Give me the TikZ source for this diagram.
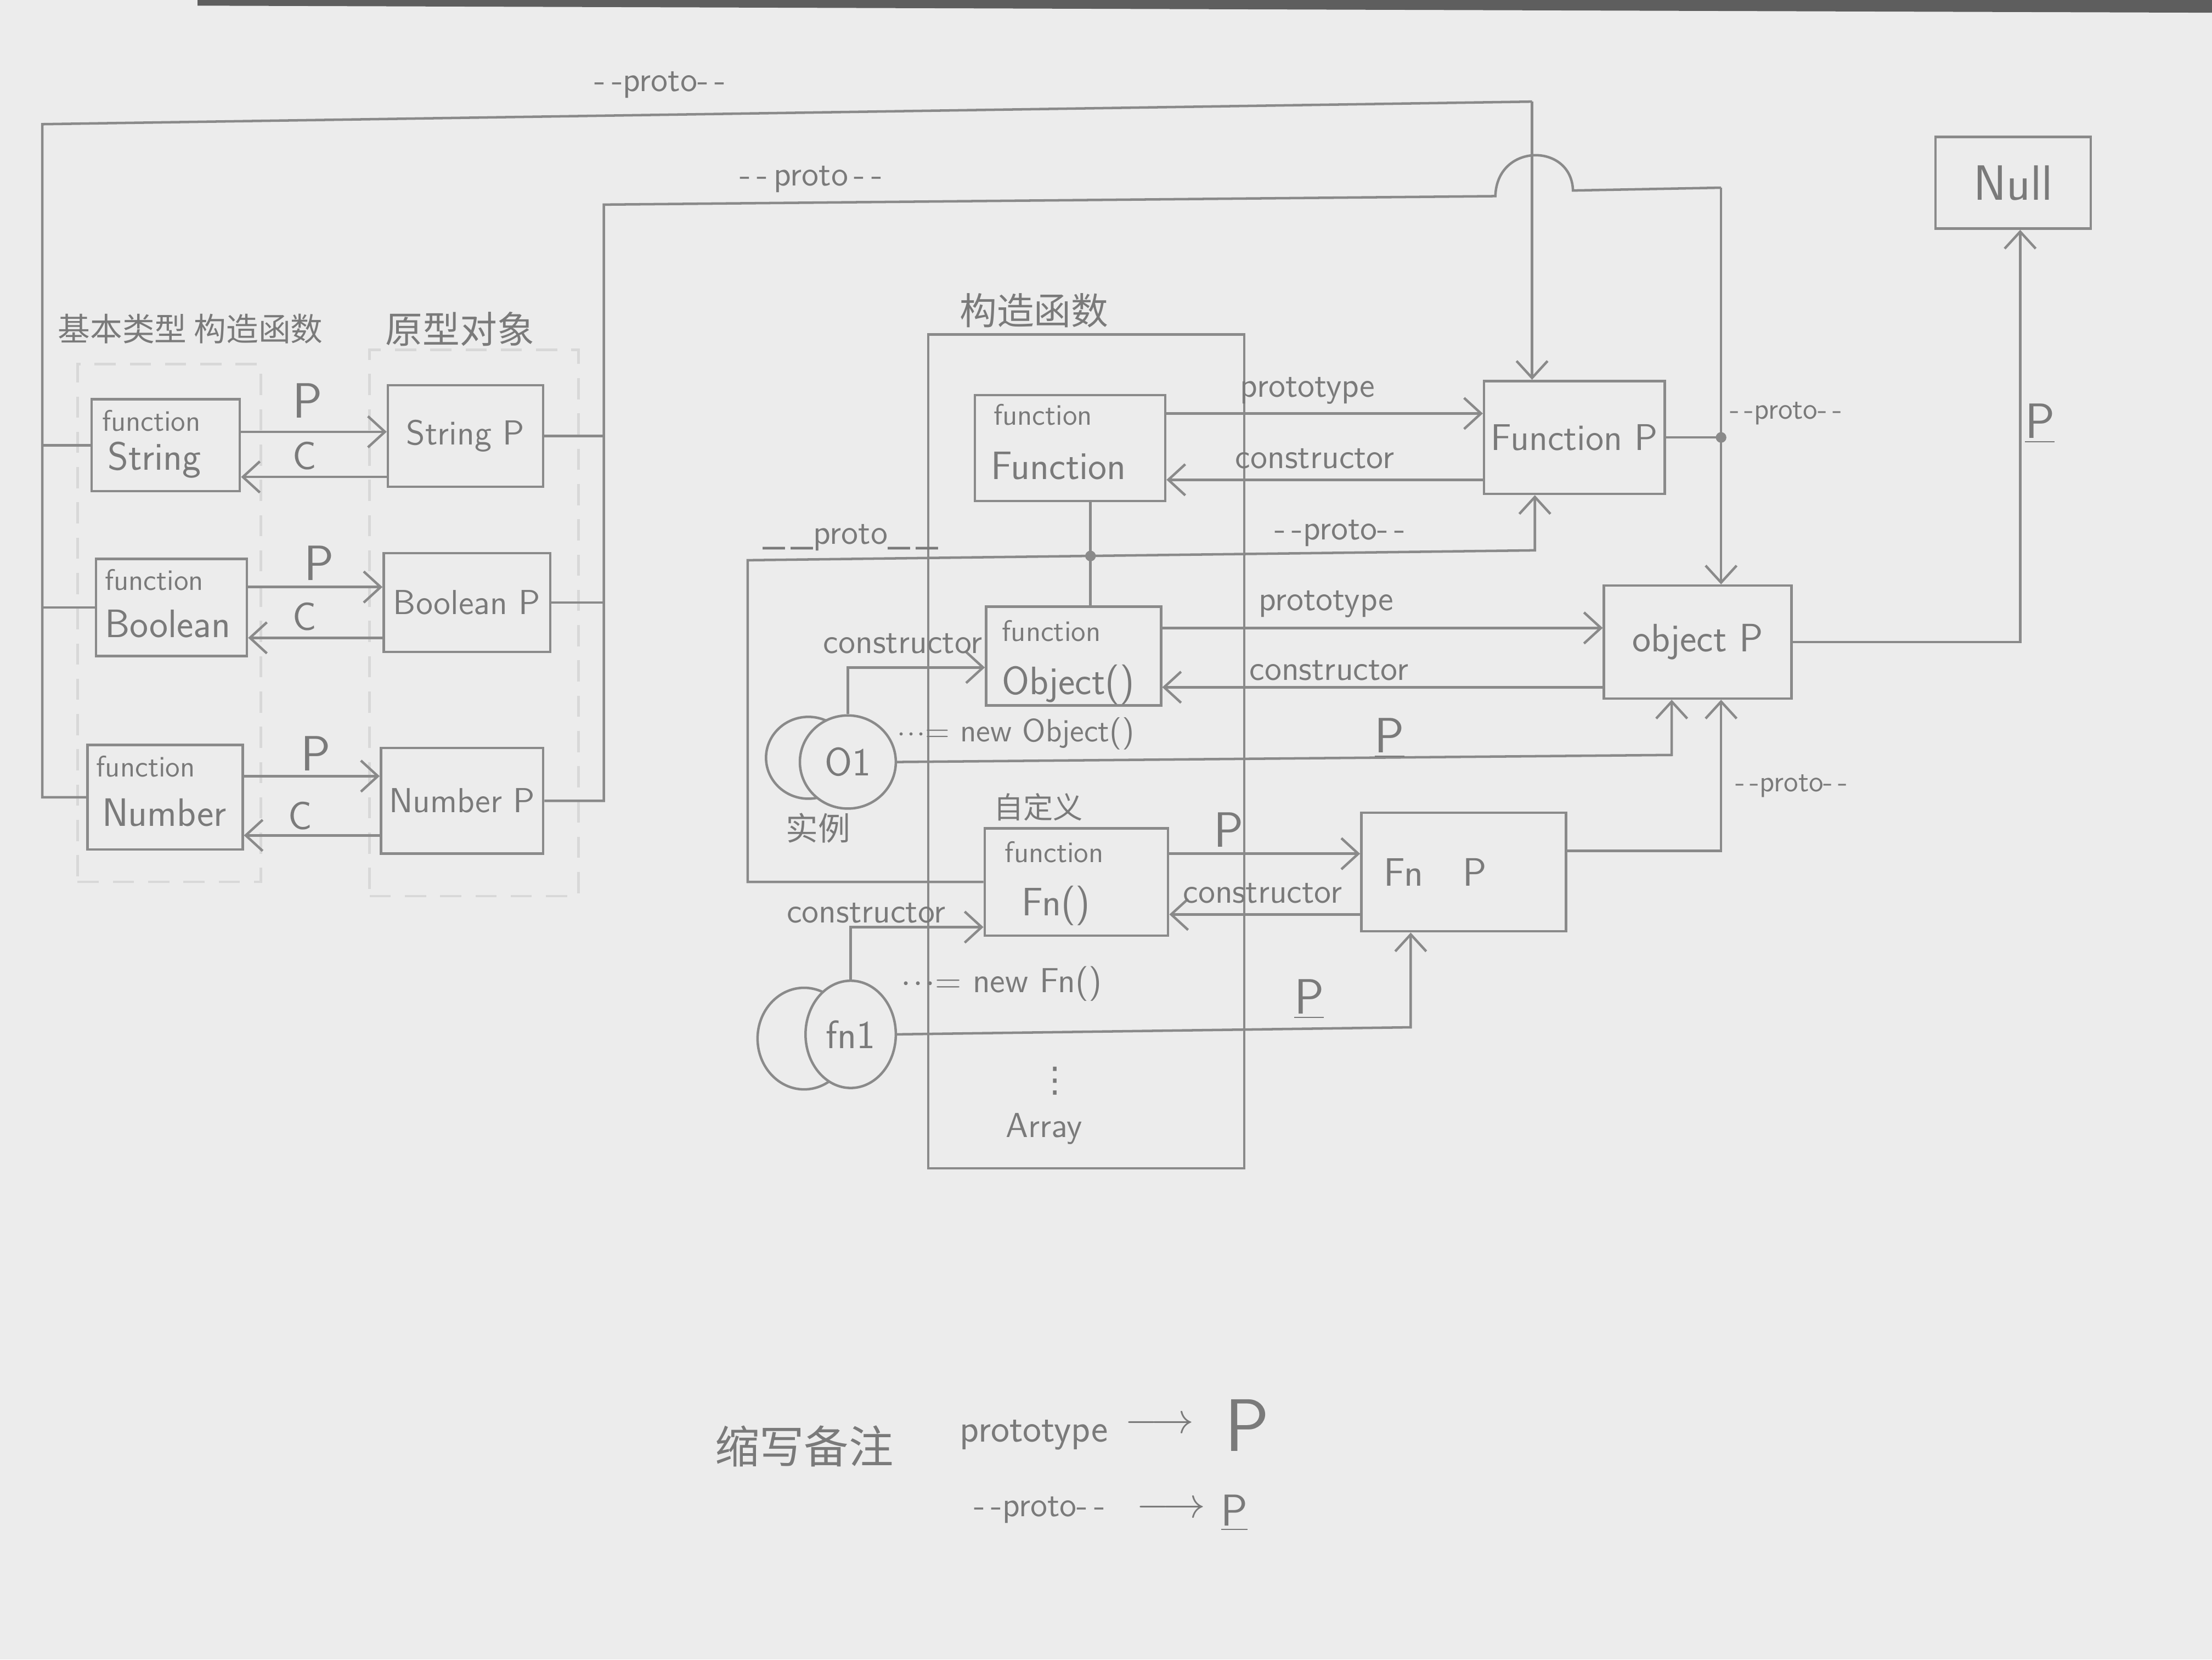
\documentclass[tikz,border=0pt]{standalone}
\usepackage{fontspec}
\newfontfamily\cjk{Noto Sans CJK SC}
\newfontfamily\dejavu{DejaVu Sans}
\usetikzlibrary{arrows.meta,calc,fit,shapes.geometric}
\definecolor{ink}{HTML}{8A8A8A}
\definecolor{txt}{HTML}{7A7A7A}
\definecolor{paper}{HTML}{ECECEC}
\definecolor{dsh}{HTML}{D8D8D8}
\definecolor{edge}{HTML}{5E5E5E}
\newcommand\szS{\fontsize{12}{14}\selectfont}
\newcommand\szM{\fontsize{14}{16}\selectfont}
\newcommand\szL{\fontsize{16}{19}\selectfont}
\newcommand\szP{\fontsize{14}{17}\selectfont}
\newcommand\szX{\fontsize{20}{22}\selectfont}
\begin{document}
\begin{tikzpicture}[x=0.2mm,y=-0.2mm,
  box/.style={draw=ink,line width=1pt,inner sep=0pt},
  dbox/.style={draw=dsh,line width=1pt,dash pattern=on 3mm off 2mm,inner sep=0pt},
  ln/.style={draw=ink,line width=1pt},
  arr/.style={ln,-{Straight Barb[length=2.4mm,width=4.4mm,line width=1pt]}},
  lab/.style={text=txt,inner sep=0pt,font=\sffamily},
  btxt/.style={text=txt,inner sep=0pt,font=\sffamily,align=left},
  dot/.style={circle,fill=ink,inner sep=0pt,minimum size=1.5mm},
  inst/.style={ellipse,draw=ink,line width=1pt,fill=paper,inner sep=0pt,text=txt,font=\sffamily\szL}]
% paper
\fill[paper] (0,0) rectangle (1568,1176);
\useasboundingbox (0,0) rectangle (1568,1176);
\fill[edge] (140,0) -- (1568,0) -- (1568,9) -- (140,4) -- cycle;

% group frames
\node[dbox,fit={(55,258) (185,625)}] (dl) {};
\node[dbox,fit={(262,248) (410,635)}] (dr) {};
\node[box,fit={(658,237) (882,828)}] (ctor) {};

% titles
\node[lab,font=\cjk\fontsize{13}{15}\selectfont] (t1) at (135,233) {基本类型\ 构造函数};
\node[lab,font=\cjk\fontsize{15}{17}\selectfont] (t2) at (326,233) {原型对象};
\node[lab,font=\cjk\fontsize{15}{17}\selectfont] (t3) at (733,220) {构造函数};

% left constructors / prototypes
\node[box,fit={(65,283) (170,348)}] (fS) {};
\node[lab,font=\sffamily\szS,anchor=west] (fSa) at (72,298) {function};
\node[lab,font=\sffamily\szL,anchor=west] (fSb) at (76,326) {String};
\node[box,fit={(275,273) (385,345)}] (pS) {};
\node[btxt] (pSt) at (pS.center) {\szP String P};
\node[box,fit={(68,396) (175,465)}] (fB) {};
\node[lab,font=\sffamily\szS,anchor=west] (fBa) at (74,411) {function};
\node[lab,font=\sffamily\szL,anchor=west] (fBb) at (74,442) {Boolean};
\node[box,fit={(272,392) (390,462)}] (pB) {};
\node[btxt] (pBt) at (pB.center) {\szP Boolean P};
\node[box,fit={(62,528) (172,602)}] (fN) {};
\node[lab,font=\sffamily\szS,anchor=west] (fNa) at (68,543) {function};
\node[lab,font=\sffamily\szL,anchor=west] (fNb) at (72,576) {Number};
\node[box,fit={(270,530) (385,605)}] (pN) {};
\node[btxt] (pNt) at (pN.center) {\szP Number P};

% central constructors
\node[box,fit={(691,280) (826,355)}] (fF) {};
\node[lab,font=\sffamily\szS,anchor=west] (fFa) at (704,294) {function};
\node[lab,font=\sffamily\szL,anchor=west] (fFb) at (702,330) {Function};
\node[box,fit={(699,430) (823,500)}] (fO) {};
\node[lab,font=\sffamily\szS,anchor=west] (fOa) at (710,447) {function};
\node[lab,font=\sffamily\szL,anchor=west] (fOb) at (710,485) {Object()};
\node[box,fit={(698,587) (828,663)}] (fFn) {};
\node[lab,font=\sffamily\szS,anchor=west] (fFna) at (712,604) {function};
\node[lab,font=\sffamily\szL,anchor=west] (fFnb) at (724,642) {Fn()};

% prototype objects
\node[box,fit={(1052,270) (1180,350)}] (pF) {};
\node[btxt] (pFt) at (pF.center) {\fontsize{15}{18}\selectfont Function P};
\node[box,fit={(1137,415) (1270,495)}] (pO) {};
\node[btxt] (pOt) at (pO.center) {\szL object P};
\node[box,fit={(965,576) (1110,660)}] (pFn) {};
\node[btxt] (pFnt) at ([xshift=-4mm]pFn.center) {\szL Fn\quad P};
\node[box,fit={(1372,97) (1482,162)}] (nul) {};
\node[btxt] (nult) at (nul.center) {\szX Null};

% instances
\node[inst,minimum width=12mm,minimum height=11.6mm] (o1b) at (573,537) {};
\node[inst,minimum width=13.6mm,minimum height=13.2mm] (o1) at (601,540) {O1};
\node[inst,minimum width=13.2mm,minimum height=14.4mm] (fn1b) at (570,736) {};
\node[inst,minimum width=12.8mm,minimum height=15.2mm] (fn1) at (603,733) {fn1};
\node[lab,font=\cjk\fontsize{13}{15}\selectfont] (sl) at (580,587) {实例};

% helper coordinates
\coordinate (lb) at (30,88);
\coordinate (tr) at (1086,72);
\coordinate (rb) at (428,145);
\coordinate (oc) at (1220,133);
\coordinate (jd) at (773,392);
\coordinate (lp) at (530,397);
\coordinate (fp) at (1088,390);
\coordinate (nc) at (1432,455);
\coordinate (c1185) at (1185,535);
\coordinate (c1220) at (1220,603);
\coordinate (c1000) at (1000,728);
\coordinate (y306) at (0,306);
\coordinate (y338) at (0,338);
\coordinate (y416) at (0,416);
\coordinate (y452) at (0,452);
\coordinate (y550) at (0,550);
\coordinate (y592) at (0,592);
\coordinate (y293) at (0,293);
\coordinate (y340) at (0,340);
\coordinate (y445) at (0,445);
\coordinate (y487) at (0,487);
\coordinate (y473) at (0,473);
\coordinate (y605) at (0,605);
\coordinate (y648) at (0,648);
\coordinate (y657) at (0,657);

% left P / C arrows
\draw[arr] (fS.east |- y306) -- (pS.west |- y306);
\draw[arr] (pS.west |- y338) -- (fS.east |- y338);
\draw[arr] (fB.east |- y416) -- (pB.west |- y416);
\draw[arr] (pB.west |- y452) -- (fB.east |- y452);
\draw[arr] (fN.east |- y550) -- (pN.west |- y550);
\draw[arr] (pN.west |- y592) -- (fN.east |- y592);
\node[lab,font=\sffamily\szX] (lp1) at (218,284) {P};
\node[lab,font=\sffamily\szL] (lc1) at (216,323) {C};
\node[lab,font=\sffamily\szX] (lp2) at (226,399) {P};
\node[lab,font=\sffamily\szL] (lc2) at (216,437) {C};
\node[lab,font=\sffamily\szX] (lp3) at (224,534) {P};
\node[lab,font=\sffamily\szL] (lc3) at (213,578) {C};

% left bus: constructors' __proto__ -> Function P
\draw[ln] (fN.west) -- (fN.west -| lb) -- (lb) -- (tr);
\draw[arr] (tr) -- (tr |- pF.north);
\draw[ln] (fS.west) -- (fS.west -| lb);
\draw[ln] (fB.west) -- (fB.west -| lb);
\node[lab,font=\sffamily\szM] (tp1) at (468,60) {-\,-proto-\,-};

% right bus: prototypes' __proto__ -> object P
\draw[ln] (pN.east) -- (pN.east -| rb) -- (rb) -- (1060,139)
  .. controls (1061,101) and (1114,101) .. (1115,135) -- (oc);
\draw[arr] (oc) -- (oc |- pO.north);
\draw[ln] (pS.east) -- (pS.east -| rb);
\draw[ln] (pB.east) -- (pB.east -| rb);
\node[lab,font=\sffamily\szM] (tp2) at (575,127) {-\,-\,proto\,-\,-};

% Function <-> Function P
\draw[arr] (fF.east |- y293) -- (pF.west |- y293);
\draw[arr] (pF.west |- y340) -- (fF.east |- y340);
\node[lab,font=\sffamily\szM] (lpt1) at (927,277) {prototype};
\node[lab,font=\sffamily\szM] (lct1) at (932,325) {constructor};

% Function P -> object P (junction)
\draw[ln] (pF.east) -- (pF.east -| oc) node[dot] (jd2) {};
\node[lab,font=\sffamily\szS] (tp3) at (1266,293) {-\,-proto-\,-};

% constructors' __proto__ loop -> Function P
\draw[ln] (fF.south -| jd) -- (fO.north -| jd);
\draw[arr] (fFn.west) -- (fFn.west -| lp) -- (lp) -- (fp) -- (fp |- pF.south);
\node[dot] (jd1) at (773,394) {};
\node[lab,font=\sffamily\szM] (tp4) at (950,378) {-\,-proto-\,-};
\node[lab,font=\sffamily\szM] (tp5) at (603,381) {\_\,\_proto\_\,\_};

% Object() <-> object P
\draw[arr] (fO.east |- y445) -- (pO.west |- y445);
\draw[arr] (pO.west |- y487) -- (fO.east |- y487);
\node[lab,font=\sffamily\szM] (lpt2) at (940,428) {prototype};
\node[lab,font=\sffamily\szM] (lct2) at (942,475) {constructor};

% object P -> Null
\draw[arr] (pO.east) -- (pO.east -| nc) -- (nc |- nul.south);
\node[lab,font=\sffamily\szX] (lpn) at (1446,300) {\underline{P}};

% O1 instance
\draw[arr] (o1.north) -- (o1.north |- y473) -- (fO.west |- y473);
\node[lab,font=\sffamily\szM] (lco) at (640,456) {constructor};
\node[lab,font=\sffamily\fontsize{13}{15}\selectfont] (no) at (720,520) {$\cdot\!\cdot\!\cdot$= new Object()};
\draw[arr] (o1.east) -- (c1185) -- (c1185 |- pO.south);
\node[lab,font=\sffamily\szX] (lpo) at (985,523) {\underline{P}};

% Fn P -> object P
\draw[arr] (pFn.east |- c1220) -- (c1220) -- (c1220 |- pO.south);
\node[lab,font=\sffamily\szS] (tp6) at (1270,557) {-\,-proto-\,-};

% Fn() <-> Fn P
\node[lab,font=\cjk\fontsize{12}{14}\selectfont] (zdy) at (736,572) {自定义};
\draw[arr] (fFn.east |- y605) -- (pFn.west |- y605);
\draw[arr] (pFn.west |- y648) -- (fFn.east |- y648);
\node[lab,font=\sffamily\szX] (lpf) at (871,588) {P};
\node[lab,font=\sffamily\szM] (lcf) at (895,633) {constructor};

% fn1 instance
\draw[arr] (fn1.north) -- (fn1.north |- y657) -- (fFn.west |- y657);
\node[lab,font=\sffamily\szM] (lcn) at (614,647) {constructor};
\node[lab,font=\sffamily\fontsize{14}{16}\selectfont] (nf) at (710,697) {$\cdot\!\cdot\!\cdot$= new Fn()};
\draw[arr] (fn1.east) -- (c1000) -- (c1000 |- pFn.south);
\node[lab,font=\sffamily\szX] (lpfn) at (928,708) {\underline{P}};

% more constructors
\node[lab,font=\dejavu\fontsize{14}{16}\selectfont] (vd) at (748,766) {⋮};
\node[lab,font=\sffamily\szM] (arrN) at (740,800) {Array};

% legend
\node[lab,font=\cjk\fontsize{18}{20}\selectfont] (lg1) at (570,1025) {缩写备注};
\node[lab,font=\sffamily\fontsize{16}{18}\selectfont] (lg2) at (733,1017) {prototype};
\node[lab,font=\sffamily\fontsize{16}{18}\selectfont] (lg3) at (822,1010) {$\longrightarrow$};
\node[lab,font=\sffamily\fontsize{30}{32}\selectfont] (lg4) at (884,1010) {P};
\node[lab,font=\sffamily\fontsize{14}{16}\selectfont] (lg5) at (737,1070) {-\,-proto-\,-};
\node[lab,font=\sffamily\fontsize{16}{18}\selectfont] (lg6) at (830,1070) {$\longrightarrow$};
\node[lab,font=\sffamily\fontsize{18}{20}\selectfont] (lg7) at (875,1072) {\underline{P}};
\end{tikzpicture}
\end{document}
